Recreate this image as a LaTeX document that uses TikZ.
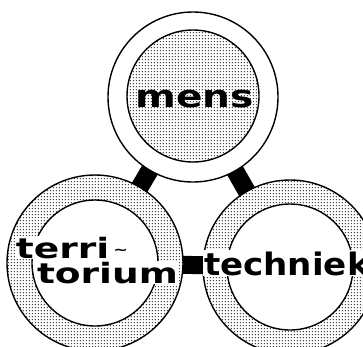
\documentclass[tikz,border=0pt]{standalone}
\usepackage{fontspec}
\setmainfont{DejaVu Sans}
\newfontfamily\mensfont[FakeStretch=1.26]{DejaVu Sans}
\newfontfamily\terrfont[FakeStretch=1.34]{DejaVu Sans}
\newfontfamily\techfont[FakeStretch=1.1]{DejaVu Sans}
\usetikzlibrary{patterns,backgrounds}
\pgfdeclarepatternformonly{halftone}{\pgfpoint{-1.6pt}{-1.6pt}}{\pgfpoint{1.6pt}{1.6pt}}{\pgfpoint{3.2pt}{3.2pt}}{%
  \pgfpathcircle{\pgfpointorigin}{0.7pt}\pgfusepath{fill}}
\begin{document}
\begin{tikzpicture}[x=1pt,y=-1pt,
  ring/.style={circle, draw=black, line width=1.4pt, inner sep=0pt, outer sep=0pt},
  plainring/.style={ring, fill=white},
  dotring/.style={ring, preaction={fill=white}, pattern=halftone, pattern color=black},
  bar/.style={line width=18pt, draw=black},
  word/.style={inner sep=1pt, outer sep=0pt}]
\useasboundingbox (0,0) rectangle (363,346);
\clip (0,0) rectangle (363,346);
% outer circles
\node[plainring, minimum size=170pt] (mensring) at (193,97) {};
\node[dotring, minimum size=176pt] (terrring) at (95,263) {};
\node[dotring, minimum size=174pt] (techring) at (290,267) {};
% inner discs
\node[dotring, minimum size=132pt] (menscore) at (193,96) {};
\node[plainring, minimum size=126pt] (terrcore) at (95,263) {};
\node[plainring, minimum size=126pt] (techcore) at (290,267) {};
% connectors
\begin{scope}[on background layer]
  \draw[bar] (mensring.center) -- (terrring.center);
  \draw[bar] (mensring.center) -- (techring.center);
  \draw[bar] (terrring.center) -- (techring.center);
\end{scope}
% labels
\node[word, anchor=base, font=\mensfont\bfseries\fontsize{31}{31}\selectfont] (mens) at (194.5,107) {mens};
\node[word, fill=white, anchor=base west, font=\terrfont\bfseries\fontsize{28}{28}\selectfont] (terri) at (15,258)
  {terri{\kern4pt\fontsize{13}{13}\selectfont\raisebox{4pt}{\textasciitilde}}};
\node[word, fill=white, anchor=base west, font=\terrfont\bfseries\fontsize{28}{28}\selectfont] (torium) at (36,283) {torium};
\node[word, fill=white, anchor=base west, font=\techfont\bfseries\fontsize{31}{31}\selectfont] (techniek) at (203,275) {techniek};
\end{tikzpicture}
\end{document}
